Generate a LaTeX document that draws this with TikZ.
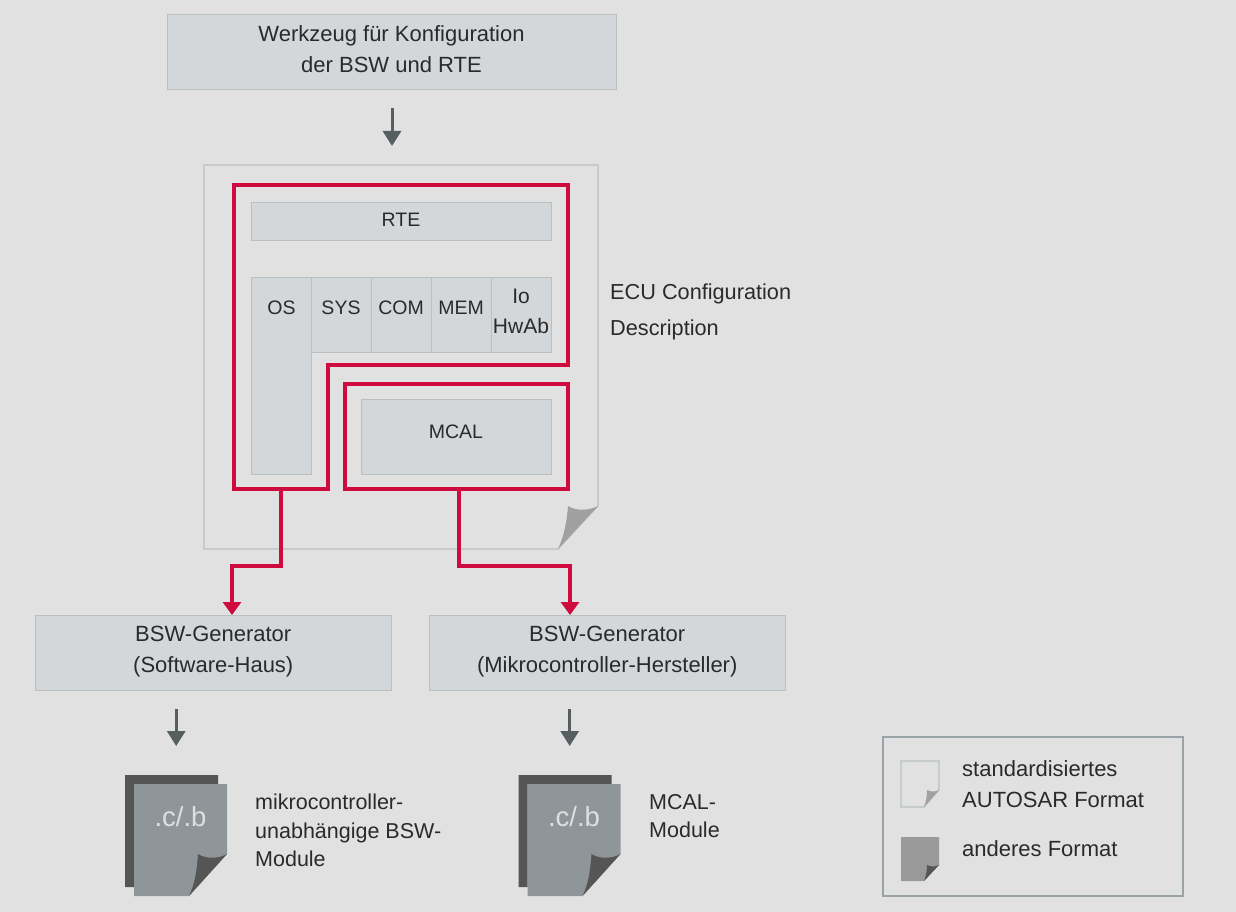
\documentclass[tikz,border=0pt]{standalone}
\usepackage{fontspec}
\setmainfont{Liberation Sans}
\usetikzlibrary{arrows.meta,calc}
\definecolor{bgc}{HTML}{E1E1E1}
\definecolor{boxf}{HTML}{D3D7DA}
\definecolor{boxd}{HTML}{B9C0C2}
\definecolor{redc}{HTML}{CF0A3F}
\definecolor{arrc}{HTML}{565E60}
\definecolor{txtc}{HTML}{2A2A2A}
\definecolor{foldg}{HTML}{A0A0A0}
\definecolor{docf}{HTML}{8F9699}
\definecolor{docd}{HTML}{555555}
\definecolor{leggf}{HTML}{999999}
\definecolor{legb}{HTML}{9AA4A6}
\definecolor{doct}{HTML}{DDE0E1}
\newcommand{\mainsz}{\fontsize{22}{31}\selectfont}
\newcommand{\capsz}{\fontsize{19.5}{31}\selectfont}
\tikzset{
 x=1pt,y=-1pt,
 lbl/.style={inner sep=0pt,text=txtc,font=\mainsz,align=center},
 lbll/.style={lbl,align=left,anchor=north west},
 bx/.style={draw=boxd,fill=boxf,line width=1pt,inner sep=0pt,outer sep=0pt},
 garrow/.style={draw=arrc,line width=3pt,-{Triangle[length=15pt,width=18pt]}},
 rarrow/.style={draw=redc,line width=3.4pt,-{Triangle[length=13pt,width=18pt]}},
 rframe/.style={draw=redc,line width=3.4pt,fill=none},
}
% name, x0, y0, x1, y1, text offset, font, text
\newcommand{\bxnode}[8]{%
 \node[bx,minimum width=#4pt-#2pt,minimum height=#5pt-#3pt,anchor=north west] (#1) at (#2,#3) {};
 \node[lbl,font=#7] (#1t) at ($(#1.center)+(0,#6)$) {#8};}
\begin{document}
\begin{tikzpicture}
\useasboundingbox (0,0) rectangle (1236,912);
\fill[bgc] (0,0) rectangle (1236,912);

% main page
\draw[draw=boxd,line width=1.2pt,fill=bgc] (204,165) -- (598,165) -- (598,506) -- (558,549) -- (204,549) -- cycle;
\fill[foldg] (598,506) .. controls (588,511) and (576,511) .. (568,506) .. controls (567,521) and (564,536) .. (558,549) -- cycle;
\coordinate (pagetop) at (392,165);

\bxnode{tool}{167}{15}{616}{90}{-3.5}{\mainsz}{Werkzeug für Konfiguration\\der BSW und RTE}
\bxnode{rte}{251}{202.5}{551}{240}{-1}{\capsz}{RTE}
\bxnode{os}{251}{277.5}{311}{474}{0}{\capsz}{}
\node[lbl,font=\capsz] (ostxt) at (281.5,308) {OS};
\bxnode{sys}{311}{277.5}{371}{352}{-6.5}{\capsz}{SYS}
\bxnode{com}{371}{277.5}{431}{352}{-6.5}{\capsz}{COM}
\bxnode{mem}{431}{277.5}{491}{352}{-6.5}{\capsz}{MEM}
\bxnode{io}{491}{277.5}{551}{352}{-3.5}{\fontsize{21}{30}\selectfont}{Io\\HwAb}
\bxnode{mcal}{361}{399.5}{551}{474}{-5}{\capsz}{MCAL}

\node[lbl,align=left,anchor=west,font=\fontsize{21.7}{36}\selectfont] (ecu) at (610,312) {ECU Configuration\\Description};

% red frames
\coordinate (lframe) at (281,489);
\draw[rframe,line join=miter] (234,185) -- (568,185) -- (568,365) -- (328,365) -- (328,489) -- (234,489) -- cycle;
\node[draw=redc,line width=3.4pt,outer sep=0pt,minimum width=223pt,minimum height=105pt,inner sep=0pt,anchor=north west] (mcalf) at (345,384) {};
\coordinate (mcalport) at (459,489);

% generators
\bxnode{gena}{35.5}{615.5}{391}{690}{-0.7}{\mainsz}{BSW-Generator\\(Software-Haus)}
\bxnode{genb}{429.5}{615.5}{785}{690}{-0.7}{\mainsz}{BSW-Generator\\(Mikrocontroller-Hersteller)}
\coordinate (ina) at (232,615);
\coordinate (inb) at (570,615);

% code documents
\newcommand{\codedoc}[2]{%
 \begin{scope}[shift={(#2,0)}]
  \fill[docd] (125,775) -- (218,775) -- (218,784) -- (134,784) -- (134,887) -- (125,887) -- cycle;
  \fill[docf] (134,784) -- (227,784) -- (227,854) -- (189,896) -- (134,896) -- cycle;
  \fill[docd] (227,854) .. controls (218,859) and (206,859) .. (198,854) .. controls (197,869) and (195,884) .. (189,896) -- cycle;
 \end{scope}
 \node[inner sep=0pt,minimum width=102pt,minimum height=121pt,anchor=north west] (#1) at (125+#2,775) {};
 \node[inner sep=0pt,text=doct,font=\fontsize{27.5}{30}\selectfont] (#1t) at (180.5+#2,817) {.c/.b};
}
\codedoc{doca}{0}
\codedoc{docb}{393.5}

\node[lbll,font=\fontsize{21.5}{28.5}\selectfont] (doctxta) at (255,794) {mikrocontroller-\\unabhängige BSW-\\Module};
\node[lbll,font=\fontsize{21.5}{28.5}\selectfont] (doctxtb) at (649,794) {MCAL-\\Module};

% legend
\node[draw=legb,line width=1.3pt,outer sep=0pt,minimum width=300pt,minimum height=159pt,inner sep=0pt,anchor=north west] (legend) at (883,737) {};
\draw[boxd,line width=1.2pt,fill=bgc] (901,761) -- (939,761) -- (939,790) -- (924,807) -- (901,807) -- cycle;
\fill[foldg] (939,790) .. controls (935,792) and (931,792) .. (927,790) .. controls (927,796) and (926,802) .. (924,807) -- cycle;
\fill[leggf] (901,837) -- (939,837) -- (939,865) -- (924,881) -- (901,881) -- cycle;
\fill[docd] (939,865) .. controls (935,867) and (931,867) .. (927,865) .. controls (927,871) and (926,876) .. (924,881) -- cycle;
\node[lbll] (legt1) at (962,760) {standardisiertes\\AUTOSAR Format};
\node[lbll] (legt2) at (962,840) {anderes Format};

% grey arrows
\draw[garrow,shorten <=18pt,shorten >=19pt] (tool.south -| pagetop) -- (pagetop);
\draw[garrow,shorten <=19pt,shorten >=29pt] (gena.south -| doca.north) -- (doca.north);
\draw[garrow,shorten <=19pt,shorten >=29pt] (genb.south -| docb.north) -- (docb.north);

% red arrows
\draw[rarrow] (lframe) -- ++(0,77) -| (ina);
\draw[rarrow] (mcalport) -- ++(0,77) -| (inb);
\end{tikzpicture}
\end{document}
